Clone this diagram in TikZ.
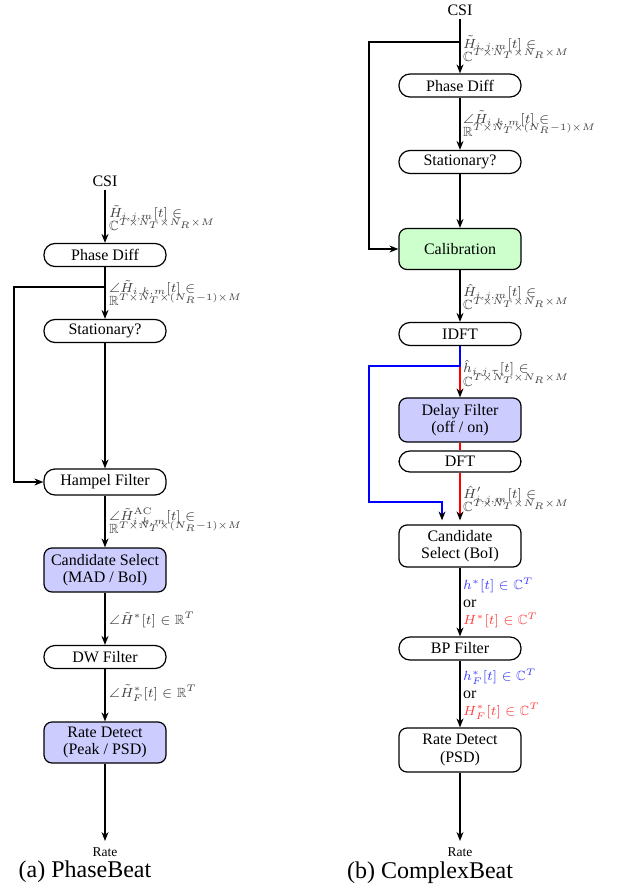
\documentclass[tikz,border=0pt]{standalone}
\usepackage{amssymb}
\usepackage{graphicx}
\usepackage[no-math]{fontspec}
\setmainfont{Liberation Serif}
\usetikzlibrary{arrows.meta}
\definecolor{lav}{RGB}{204,204,255}
\definecolor{mint}{RGB}{204,255,204}
\newcommand\onel[1]{\scalebox{1.9}{\fontsize{7}{8}\selectfont #1}}
\newcommand\twol[2]{\scalebox{1.9}{\fontsize{7}{7}\selectfont\lineskiplimit=-100pt\relax\vbox{\hbox{#1}\hbox{#2}}}}
\newcommand\threel[3]{\scalebox{1.9}{\fontsize{7}{9.2}\selectfont\lineskiplimit=-100pt\relax\vbox{\hbox{#1}\hbox{\fontsize{8.4}{9.2}\selectfont\color{black}#2}\hbox{#3}}}}
\tikzset{
 box/.style={draw, line width=1.2pt, rounded corners=11pt, minimum width=122pt, minimum height=23pt, inner sep=0pt, font=\fontsize{16}{18}\selectfont, align=center},
 tallbox/.style={box, rounded corners=8pt, minimum height=43pt, font=\fontsize{16}{17.5}\selectfont},
 flow/.style={line width=1.2pt, -{Stealth[length=9pt,width=7pt,color=black]}},
 plainline/.style={line width=1.2pt},
 lbl/.style={anchor=west, inner sep=0pt, text=black!75},
 lblthree/.style={anchor=west, inner sep=0pt},
 termtxt/.style={font=\fontsize{16}{18}\selectfont},
 smalltxt/.style={font=\fontsize{13.5}{16}\selectfont},
 captxt/.style={font=\fontsize{24}{26}\selectfont},
}
\begin{document}
\begin{tikzpicture}[x=1pt,y=-1pt]
\useasboundingbox (0,0) rectangle (616,888);
% ---------------- left: PhaseBeat ----------------
\node[termtxt] (csiL) at (105,181) {CSI};
\node[box] (pdL) at (105,255) {Phase Diff};
\node[box] (stL) at (105,331) {Stationary?};
\node[box, minimum height=26pt] (hfL) at (105,482) {Hampel Filter};
\node[tallbox, fill=lav, minimum height=44pt] (csL) at (105,570) {Candidate Select\\(MAD / BoI)};
\node[box] (dwL) at (105,657) {DW Filter};
\node[tallbox, fill=lav, minimum height=41pt] (rdL) at (105,742.5) {Rate Detect\\(Peak / PSD)};
\node[smalltxt] (rateL) at (105,852) {Rate};
\node[captxt] (capL) at (85,872) {(a)\ PhaseBeat};
\coordinate (brL) at (105,287);
\coordinate (turnL) at (14,287);
\draw[flow] (csiL) -- (pdL);
\draw[flow] (pdL) -- (stL);
\draw[flow] (brL) -- (turnL) |- (hfL.west);
\draw[flow] (stL) -- (hfL);
\draw[flow] (hfL) -- (csL);
\draw[flow] (csL) -- (dwL);
\draw[flow] (dwL) -- (rdL);
\draw[flow, shorten >=3pt] (rdL) -- (rateL);
\node[lbl] (l1) at (109,218) {\twol{$\tilde{H}_{i,j,m}[t] \in$}{$\mathbb{C}^{T\times N_T\times N_R\times M}$}};
\node[lbl] (l2) at (109,293) {\twol{$\angle\tilde{H}_{i,k,m}[t] \in$}{$\mathbb{R}^{T\times N_T\times (N_R-1)\times M}$}};
\node[lbl] (l3) at (109,521) {\twol{$\angle\tilde{H}^{\mathrm{AC}}_{i,k,m}[t] \in$}{$\mathbb{R}^{T\times N_T\times (N_R-1)\times M}$}};
\node[lbl] (l4) at (109,620) {\onel{$\angle\tilde{H}^{*}[t] \in \mathbb{R}^{T}$}};
\node[lbl] (l5) at (109,693) {\onel{$\angle\tilde{H}^{*}_{F}[t] \in \mathbb{R}^{T}$}};
% ---------------- right: ComplexBeat ----------------
\node[termtxt] (csiR) at (460,10) {CSI};
\node[box] (pdR) at (460,85.5) {Phase Diff};
\node[box] (stR) at (460,162) {Stationary?};
\node[tallbox, fill=mint, minimum height=41pt] (calR) at (460,249) {Calibration};
\node[box] (idR) at (460,334) {IDFT};
\node[tallbox, fill=lav, minimum height=44pt] (dfR) at (460,420) {Delay Filter\\(off / on)};
\node[box, minimum height=21pt] (dftR) at (460,461.5) {DFT};
\node[tallbox, minimum height=42pt] (csR) at (460,546) {Candidate\\Select (BoI)};
\node[box] (bpR) at (460,648.5) {BP Filter};
\node[tallbox, minimum height=44pt] (rdR) at (460,750) {Rate Detect\\(PSD)};
\node[smalltxt] (rateR) at (460,852) {Rate};
\node[captxt] (capR) at (430,873) {(b)\ ComplexBeat};
\coordinate (brR) at (460,42);
\coordinate (turnR) at (369,42);
\coordinate (brR2) at (460,366);
\coordinate (turnR2) at (369,366);
\coordinate (turnR4) at (442,502);
\draw[flow] (csiR) -- (pdR);
\draw[flow] (brR) -- (turnR) |- (calR.west);
\draw[flow] (pdR) -- (stR);
\draw[flow] (stR) -- (calR);
\draw[flow] (calR) -- (idR);
\draw[flow, red] (brR2) -- (dfR);
\draw[plainline, red] (dfR) -- (dftR);
\draw[flow, red, shorten >=4pt] (dftR) -- (csR);
\draw[flow, blue, shorten >=4pt] (idR.south) -- (brR2) -- (turnR2) |- (turnR4) -- (turnR4 |- csR.north);
\draw[flow] (csR) -- (bpR);
\draw[flow] (bpR) -- (rdR);
\draw[flow, shorten >=3pt] (rdR) -- (rateR);
\node[lbl] (r1) at (463,48.5) {\twol{$\tilde{H}_{i,j,m}[t] \in$}{$\mathbb{C}^{T\times N_T\times N_R\times M}$}};
\node[lbl] (r2) at (463,123.5) {\twol{$\angle\tilde{H}_{i,k,m}[t] \in$}{$\mathbb{R}^{T\times N_T\times (N_R-1)\times M}$}};
\node[lbl] (r3) at (463,297) {\twol{$\hat{H}_{i,j,m}[t] \in$}{$\mathbb{C}^{T\times N_T\times N_R\times M}$}};
\node[lbl] (r4) at (463,373) {\twol{$\hat{h}_{i,j,\tau}[t] \in$}{$\mathbb{C}^{T\times N_T\times N_R\times M}$}};
\node[lbl] (r5) at (463,499) {\twol{${\hat{H}'}_{i,j,m}[t] \in$}{$\mathbb{C}^{T\times N_T\times N_R\times M}$}};
\node[lblthree] (r6) at (463,603) {\threel{\color{blue!75}$h^{*}[t] \in \mathbb{C}^{T}$}{or}{\color{red!75}$H^{*}[t] \in \mathbb{C}^{T}$}};
\node[lblthree] (r7) at (463,694) {\threel{\color{blue!75}$h^{*}_{F}[t] \in \mathbb{C}^{T}$}{or}{\color{red!75}$H^{*}_{F}[t] \in \mathbb{C}^{T}$}};
\end{tikzpicture}
\end{document}
